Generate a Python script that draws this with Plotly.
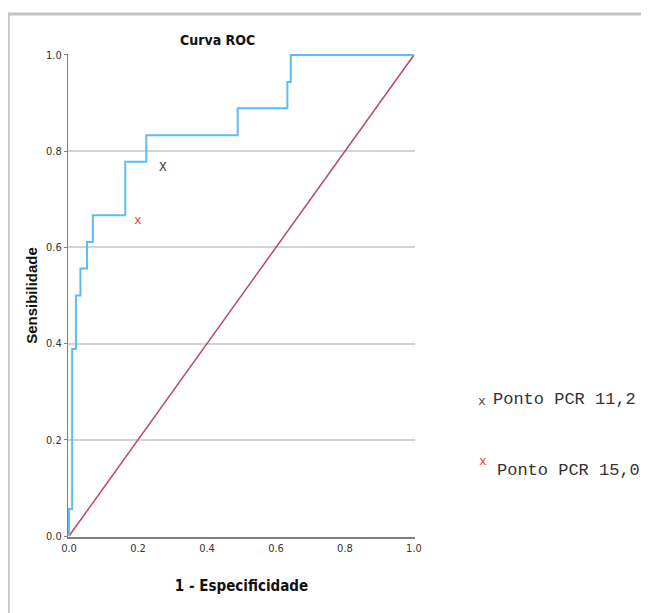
import plotly.graph_objects as go

# ROC curve (step) coordinates
roc_fpr = [0.0, 0.0, 0.009, 0.009, 0.020, 0.020, 0.033, 0.033, 0.052, 0.052,
           0.069, 0.069, 0.163, 0.163, 0.224, 0.224, 0.489, 0.489, 0.633,
           0.633, 0.643, 0.643, 1.0]
roc_tpr = [0.0, 0.056, 0.056, 0.389, 0.389, 0.500, 0.500, 0.556, 0.556, 0.611,
           0.611, 0.667, 0.667, 0.778, 0.778, 0.833, 0.833, 0.889, 0.889,
           0.944, 0.944, 1.0, 1.0]
ref_x = [0.0, 1.0]
ref_y = [0.0, 1.0]

pt_names = ["Ponto PCR 11,2", "Ponto PCR 15,0"]
pt_x = [0.272, 0.200]
pt_y = [0.766, 0.655]
pt_colors = ["#444444", "#ff3333"]

tick_vals = [0.0, 0.2, 0.4, 0.6, 0.8, 1.0]
tick_text = ["0.0", "0.2", "0.4", "0.6", "0.8", "1.0"]

fig = go.Figure()
fig.add_trace(go.Scatter(x=ref_x, y=ref_y, mode="lines",
                         line=dict(color="#b8476e", width=1.5),
                         showlegend=False, hoverinfo="skip"))
fig.add_trace(go.Scatter(x=roc_fpr, y=roc_tpr, mode="lines",
                         line=dict(color="#5cbcf5", width=2),
                         showlegend=False))
for i in range(len(pt_names)):
    fig.add_trace(go.Scatter(x=[pt_x[i]], y=[pt_y[i]], mode="text",
                             text=["x" if i else "X"],
                             textfont=dict(family="Liberation Mono", size=13,
                                           color=pt_colors[i]),
                             showlegend=False, name=pt_names[i]))

narrow = "Liberation Sans Narrow, DejaVu Sans Condensed, Arial Narrow, sans-serif"

# plot area: 347 x 483 px  (data 0..1 covers 345 x 481 px)
fig.update_layout(
    width=641, height=605,
    margin=dict(l=60, r=234, t=46, b=76),
    paper_bgcolor="white", plot_bgcolor="white",
    xaxis=dict(range=[-0.003, 1.003], tickvals=tick_vals, ticktext=tick_text,
               showgrid=False, zeroline=False, showline=True,
               linecolor="#7f7f7f", linewidth=2, ticks="",
               tickfont=dict(family=narrow, size=11, color="#333333"),
               title=dict(text="<b>1 - Especificidade</b>", standoff=26,
                          font=dict(family=narrow, size=15, color="#111111"))),
    yaxis=dict(range=[-0.002, 1.002], tickvals=tick_vals, ticktext=tick_text,
               showgrid=True, gridcolor="#d4d4d4", gridwidth=2,
               zeroline=False, showline=True, linecolor="#7f7f7f", linewidth=1,
               ticks="outside", ticklen=3, tickcolor="#7f7f7f",
               tickfont=dict(family=narrow, size=11, color="#333333"),
               title=dict(text="<b>Sensibilidade</b>", standoff=4,
                          font=dict(family="Liberation Sans, Arial, sans-serif",
                                    size=15, color="#111111"))),
    showlegend=False,
)

# outer frame (top and left gray border)
fig.add_shape(type="line", xref="paper", yref="paper",
              x0=-0.177, y0=1.083, x1=1.7, y1=1.083,
              line=dict(color="#c4c4c4", width=3))
fig.add_shape(type="line", xref="paper", yref="paper",
              x0=-0.172, y0=1.086, x1=-0.172, y1=-0.17,
              line=dict(color="#c4c4c4", width=3))

# title
fig.add_annotation(text="<b>Curva ROC</b>", xref="paper", yref="paper",
                   x=(217 - 68) / 347, y=(537 - 40) / 483, showarrow=False,
                   xanchor="center", yanchor="middle",
                   font=dict(family=narrow, size=14, color="#111111"))

# legend-like labels
leg_mark_x = [1.193, 1.196]
leg_mark_y = [0.28, 0.156]
leg_text_x = [1.218, 1.231]
leg_text_y = [0.285, 0.138]
leg_mark = ["x", "x"]
for i in range(len(pt_names)):
    fig.add_annotation(text=leg_mark[i], xref="paper", yref="paper",
                       x=leg_mark_x[i], y=leg_mark_y[i], showarrow=False,
                       xanchor="center", yanchor="middle",
                       font=dict(family="Liberation Mono", size=13,
                                 color=pt_colors[i]))
    fig.add_annotation(text=pt_names[i], xref="paper", yref="paper",
                       x=leg_text_x[i], y=leg_text_y[i], showarrow=False,
                       xanchor="left", yanchor="middle",
                       font=dict(family="Liberation Mono, Courier New, monospace",
                                 size=17, color="#333333"))

fig.write_html("out.html")
